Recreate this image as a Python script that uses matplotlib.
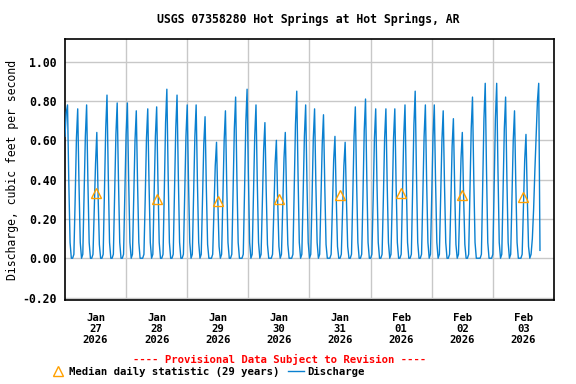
import numpy as np
import matplotlib
matplotlib.use("Agg")
import matplotlib.pyplot as plt
from matplotlib.lines import Line2D

plt.rcParams['font.family'] = ['DejaVu Sans Mono']
plt.rcParams['font.weight'] = 'bold'
plt.rcParams['axes.unicode_minus'] = False

# discharge, cubic feet per second, every 30 minutes from Jan 27 00:00
day1 = [0.62, 0.74, 0.78, 0.39, 0.08, 0, 0, 0.02, 0.30, 0.61, 0.76, 0.38, 0.08, 0,
        0.02, 0.31, 0.62, 0.78, 0.39, 0.08, 0, 0, 0.02, 0.26, 0.48, 0.64, 0.32, 0.07, 0,
        0, 0.02, 0.33, 0.66, 0.83, 0.42, 0.08, 0, 0, 0.02, 0.32, 0.63, 0.79, 0.40, 0.08, 0,
        0, 0.02, 0.32]
day2 = [0.63, 0.79, 0.40, 0.08, 0, 0.02, 0.30, 0.60, 0.75, 0.38, 0.08, 0,
        0, 0, 0.02, 0.30, 0.61, 0.76, 0.38, 0.08, 0, 0.02, 0.31, 0.62, 0.77, 0.39, 0.08, 0,
        0, 0.02, 0.34, 0.69, 0.86, 0.43, 0.08, 0, 0, 0.02, 0.33, 0.66, 0.83, 0.42, 0.08, 0,
        0, 0.02, 0.31, 0.62]
day3 = [0.78, 0.39, 0.08, 0, 0.02, 0.31, 0.62, 0.78, 0.39, 0.08, 0,
        0.02, 0.29, 0.58, 0.72, 0.36, 0.07, 0, 0, 0, 0.02, 0.24, 0.47, 0.59, 0.30, 0.06, 0,
        0.02, 0.30, 0.60, 0.75, 0.38, 0.08, 0, 0, 0.02, 0.33, 0.66, 0.82, 0.41, 0.08, 0,
        0, 0, 0.02, 0.34, 0.69, 0.86]
day4 = [0.43, 0.08, 0, 0.02, 0.31, 0.62, 0.78, 0.39, 0.08, 0,
        0.02, 0.28, 0.55, 0.69, 0.35, 0.07, 0, 0, 0, 0.02, 0.24, 0.48, 0.60, 0.30, 0.06, 0,
        0.02, 0.26, 0.51, 0.64, 0.32, 0.07, 0, 0, 0, 0.02, 0.34, 0.68, 0.85, 0.43, 0.08, 0,
        0.02, 0.31, 0.62, 0.78, 0.39, 0.08]
day5 = [0, 0.02, 0.30, 0.61, 0.76, 0.38, 0.08, 0, 0.02, 0.29, 0.58, 0.73, 0.37, 0.07, 0,
        0, 0, 0.02, 0.25, 0.50, 0.62, 0.31, 0.06, 0, 0, 0.02, 0.24, 0.47, 0.59, 0.30, 0.06, 0,
        0, 0.02, 0.31, 0.62, 0.77, 0.39, 0.08, 0, 0, 0.02, 0.32, 0.65, 0.81, 0.41, 0.08, 0]
day6 = [0, 0.02, 0.30, 0.61, 0.76, 0.38, 0.08, 0, 0, 0.02, 0.30, 0.61, 0.76, 0.38, 0.08, 0,
        0.02, 0.30, 0.61, 0.76, 0.38, 0.08, 0, 0, 0.02, 0.31, 0.62, 0.78, 0.39, 0.08, 0,
        0, 0.02, 0.34, 0.68, 0.85, 0.43, 0.08, 0, 0, 0.02, 0.31, 0.62, 0.78, 0.39, 0.08, 0,
        0.02]
day7 = [0.31, 0.62, 0.78, 0.39, 0.08, 0, 0.02, 0.30, 0.60, 0.75, 0.38, 0.08, 0,
        0, 0.02, 0.28, 0.57, 0.71, 0.36, 0.07, 0, 0.02, 0.26, 0.51, 0.64, 0.32, 0.07, 0,
        0, 0.02, 0.33, 0.66, 0.82, 0.41, 0.08, 0, 0, 0, 0, 0.02, 0.36, 0.71, 0.89, 0.45, 0.08, 0,
        0, 0]
day8 = [0.02, 0.36, 0.71, 0.89, 0.45, 0.08, 0, 0.02, 0.33, 0.66, 0.82, 0.41, 0.08, 0,
        0.02, 0.30, 0.60, 0.75, 0.38, 0.08, 0, 0, 0, 0.02, 0.25, 0.50, 0.63, 0.32, 0.06,
        0, 0.02, 0.10, 0.25, 0.45, 0.62, 0.80, 0.89, 0.04]

# median daily statistic (29 years), one per day
median_vals = [0.33, 0.30, 0.29, 0.30, 0.32, 0.33, 0.32, 0.31]

day_labels = ["Jan\n27\n2026", "Jan\n28\n2026", "Jan\n29\n2026", "Jan\n30\n2026",
              "Jan\n31\n2026", "Feb\n01\n2026", "Feb\n02\n2026", "Feb\n03\n2026"]

y_ticks = [-0.2, 0.0, 0.2, 0.4, 0.6, 0.8, 1.0]

discharge = np.array(day1 + day2 + day3 + day4 + day5 + day6 + day7 + day8)
start = np.datetime64('2026-01-27T00:00')
t = start + np.arange(len(discharge)) * np.timedelta64(30, 'm')
midnights = start + np.arange(9) * np.timedelta64(1, 'D')
noons = midnights[:-1] + np.timedelta64(12, 'h')

fig = plt.figure(figsize=(5.76, 3.84), dpi=100)
ax = fig.add_axes([0.1128, 0.218, 0.849, 0.6797])

ax.plot(t, discharge, color='#0a80d0', lw=1.0, zorder=3)
ax.plot(noons, median_vals, ls='none', marker='^', ms=7, mfc='none',
        mec='#ffa000', mew=1.0, zorder=4)

ax.set_xlim(midnights[0], midnights[-1])
ax.set_ylim(-0.214, 1.114)
ax.set_yticks(y_ticks)
ax.set_yticklabels(["%.2f" % v for v in y_ticks], fontsize=8.3)
ax.set_xticks(noons)
ax.set_xticklabels(day_labels, fontsize=7.7, linespacing=1.15)
ax.set_xticks(midnights[1:-1], minor=True)
ax.tick_params(which='both', length=0)
ax.tick_params(axis='x', pad=9)
ax.tick_params(axis='y', pad=6)
ax.grid(axis='y', color='#c8c8c8', lw=1.0)
ax.grid(axis='x', which='minor', color='#c8c8c8', lw=1.0)
ax.set_axisbelow(True)
for s in ax.spines.values():
    s.set_linewidth(1.2)

ax.set_ylabel("Discharge, cubic feet per second", fontsize=8.3, labelpad=2)
fig.text(0.536, 0.95, "USGS 07358280 Hot Springs at Hot Springs, AR",
         ha='center', va='center', fontsize=8.3)
fig.text(0.486, 0.065, "---- Provisional Data Subject to Revision ----",
         ha='center', va='center', fontsize=7.7, color='red')

h_med = Line2D([], [], ls='none', marker='^', ms=7, mfc='none', mec='#ffa000', mew=1.0)
h_q = Line2D([], [], color='#0a80d0', lw=1.0)
fig.legend([h_med, h_q], ["Median daily statistic (29 years)", "Discharge"],
           ncol=2, loc='center left', bbox_to_anchor=(0.07, 0.031), frameon=False,
           handlelength=1.5, handletextpad=0.3, columnspacing=0.8,
           prop={'size': 7.7, 'weight': 'bold', 'family': 'DejaVu Sans Mono'})

fig.savefig("out.png", dpi=100)
